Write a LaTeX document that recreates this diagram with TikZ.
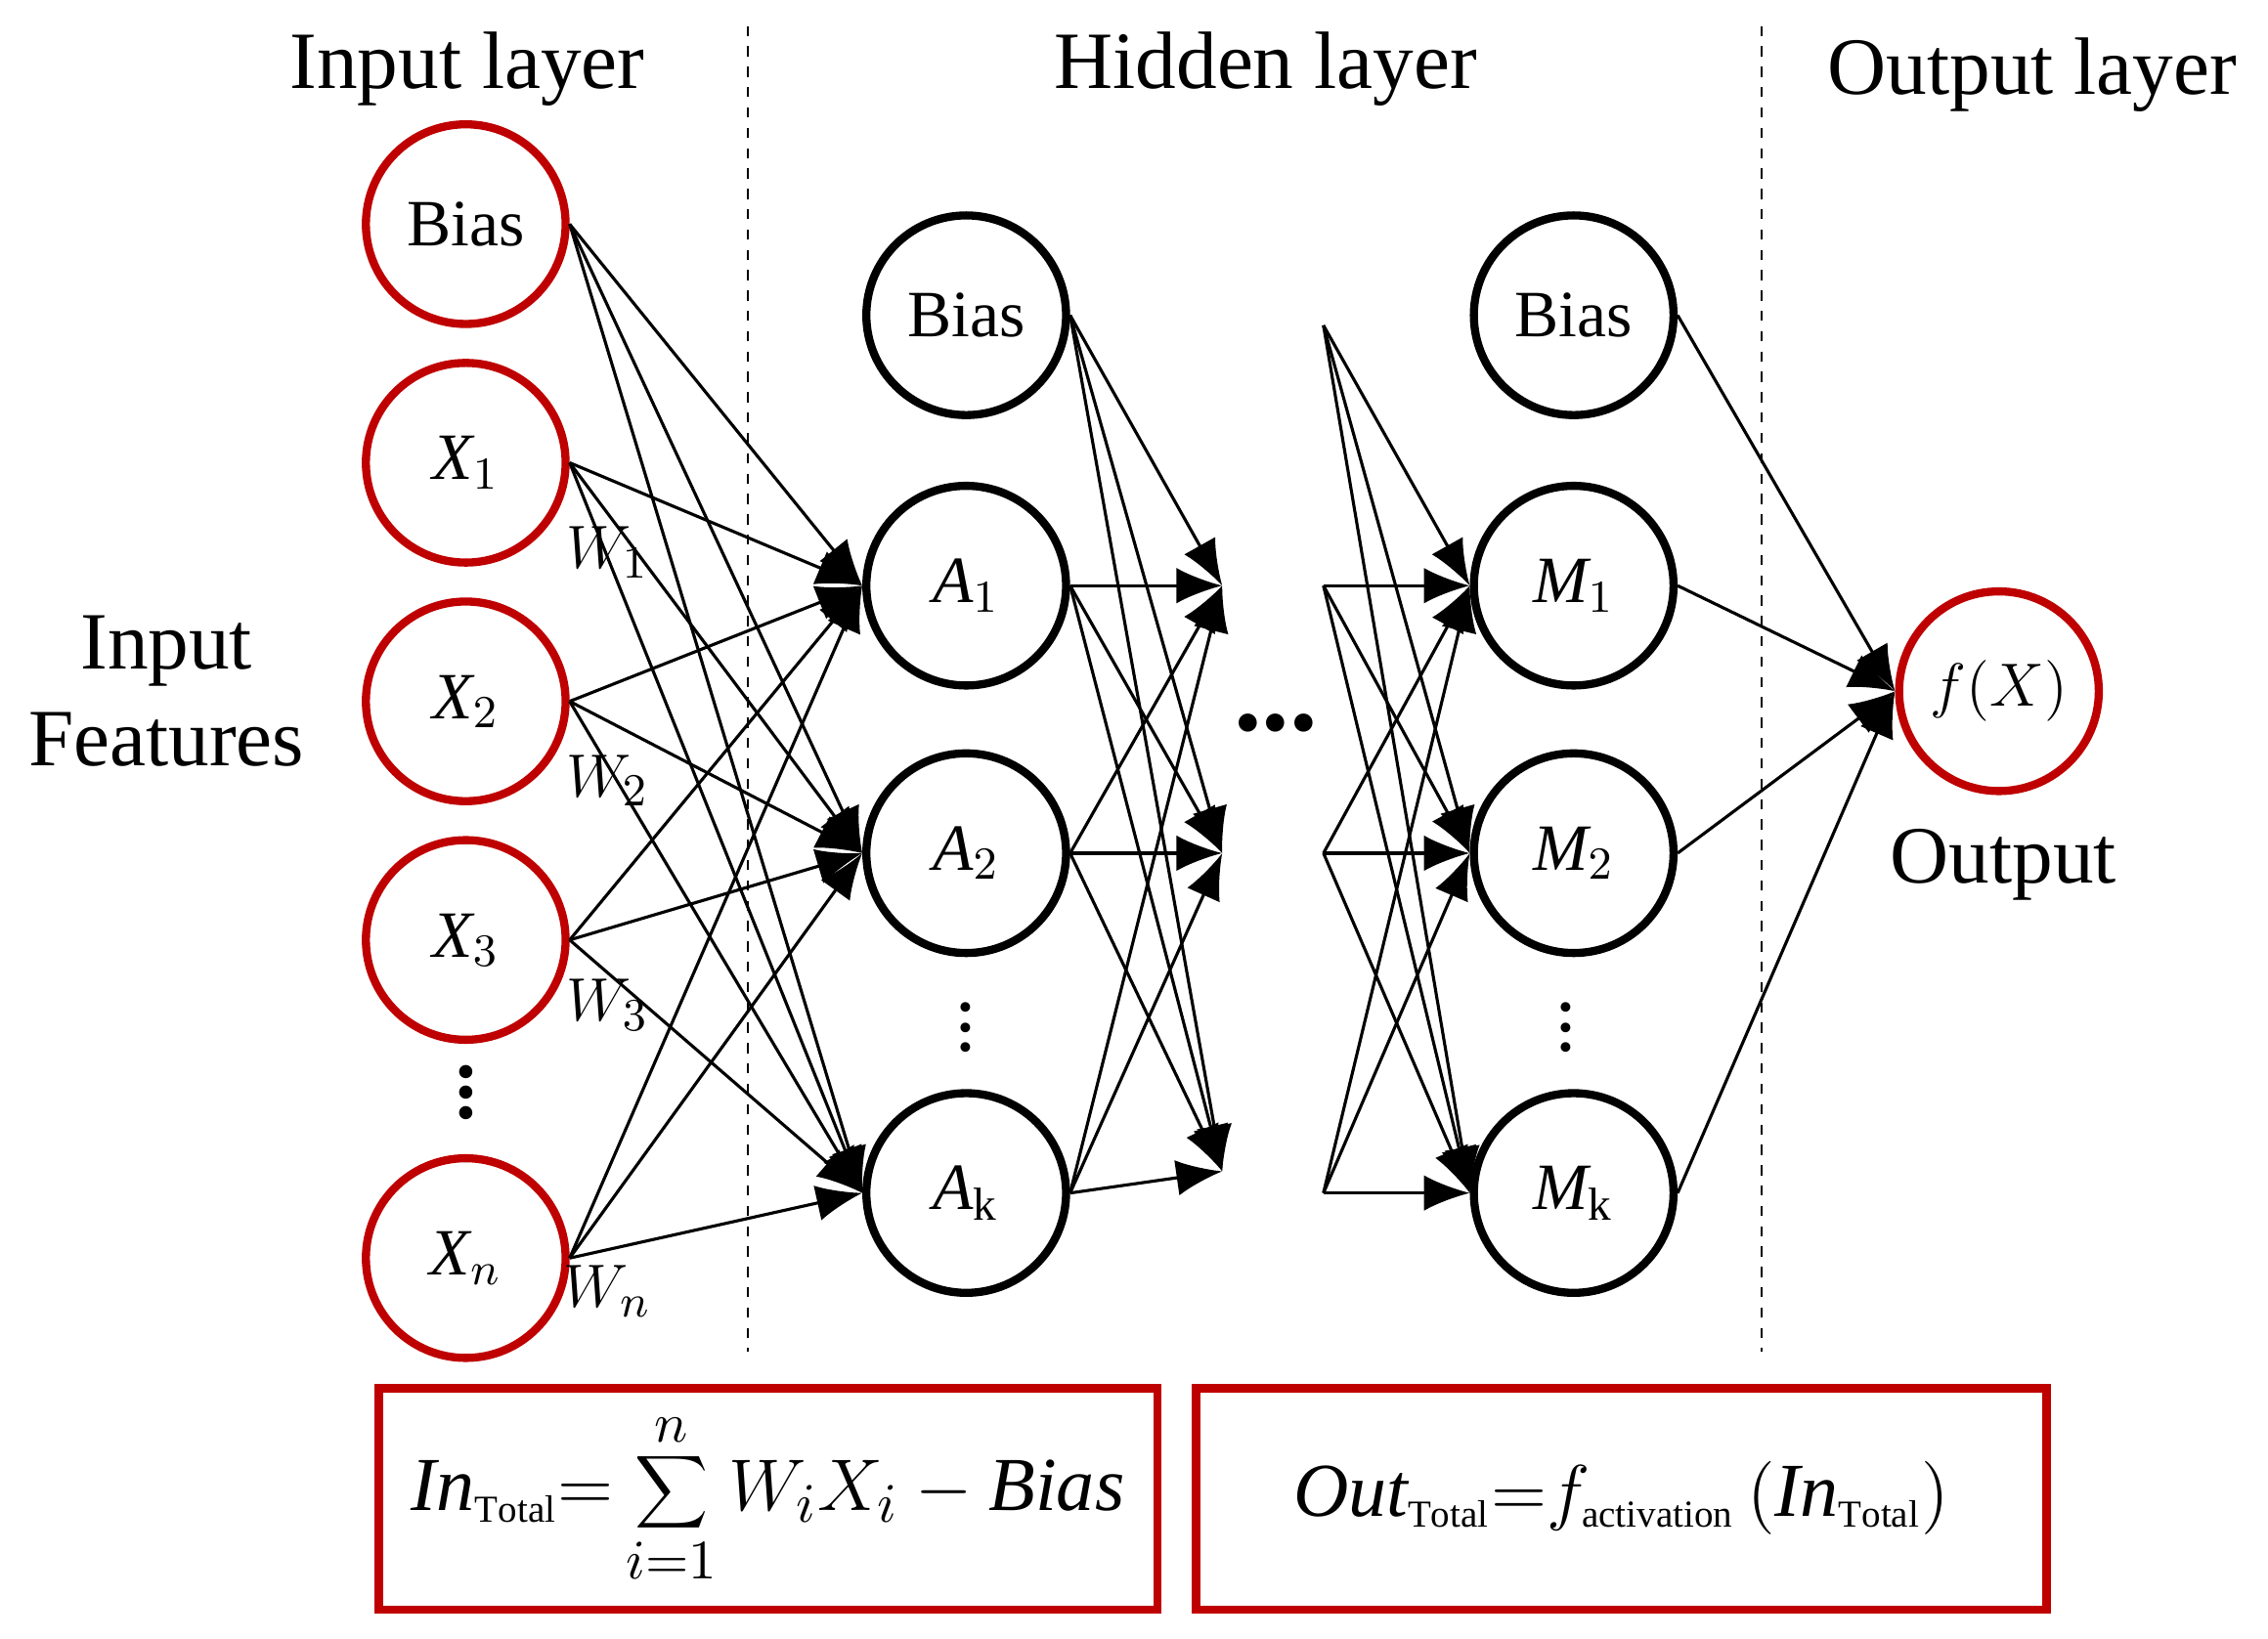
\documentclass[tikz,border=0pt]{standalone}
\usepackage{fontspec}
\setmainfont{Liberation Serif}
\usetikzlibrary{arrows.meta}
\begin{document}
\begin{tikzpicture}[x=0.01cm,y=-0.01cm,
 neu/.style={circle,draw=black,line width=1.6pt,minimum size=1.38cm,inner sep=0pt,font=\fontsize{13}{15}\selectfont},
 red/.style={neu,draw=red!75!black},
 e/.style={line width=0.6pt},
 a/.style={line width=0.6pt,-{Latex[length=9pt,width=7pt]}},
 ttl/.style={font=\fontsize{16}{19}\selectfont},
 box/.style={draw=red!75!black,line width=1.6pt}]
\useasboundingbox (0,0) rectangle (1568,1133);
\draw[dash pattern=on 2pt off 2pt,line width=0.4pt] (517,18) -- (517,935) (1218,18) -- (1218,935);
\node[ttl] (t1) at (323,48) {Input layer};
\node[ttl] (t2) at (875,48) {Hidden layer};
\node[ttl] (t3) at (1405,52) {Output layer};
\node[ttl,align=center] (feat) at (115,478) {Input\\Features};
% input
\node[red] (ib) at (322,155) {Bias};
\node[red] (x1) at (322,320) {$\mathit{X}_1$};
\node[red] (x2) at (322,485) {$\mathit{X}_2$};
\node[red] (x3) at (322,650) {$\mathit{X}_3$};
\node[red] (xn) at (322,870) {$\mathit{X}_n$};
\node[font=\bfseries\fontsize{16}{16}\selectfont] (d1) at (322,745) {$\vdots$};
% hidden A
\node[neu] (ab) at (668,218) {Bias};
\node[neu] (a1) at (668,405) {$\mathit{A}_1$};
\node[neu] (a2) at (668,590) {$\mathit{A}_2$};
\node[neu] (ak) at (668,825) {$\mathit{A}_\mathrm{k}$};
\node[font=\fontsize{16}{16}\selectfont] (d2) at (668,700) {$\vdots$};
% hidden M
\node[neu] (mb) at (1088,218) {Bias};
\node[neu] (m1) at (1088,405) {$\mathit{M}_1$};
\node[neu] (m2) at (1088,590) {$\mathit{M}_2$};
\node[neu] (mk) at (1088,825) {$\mathit{M}_\mathrm{k}$};
\node[font=\fontsize{16}{16}\selectfont] (d3) at (1083,700) {$\vdots$};
\node[font=\bfseries\fontsize{22}{22}\selectfont] (dd) at (882,500) {...};
% output
\node[red] (o) at (1382,478) {$f(X)$};
\node[ttl] (ol) at (1385,598) {Output};
% intermediate coords
\coordinate (p1) at (845,405); \coordinate (p2) at (845,590); \coordinate (p3) at (845,810);
\coordinate (s0) at (915,225); \coordinate (s1) at (915,405); \coordinate (s2) at (915,590); \coordinate (s3) at (915,825);
\foreach \s in {ib,x1,x2,x3,xn}{\foreach \t in {a1,a2,ak}{\draw[a] (\s.east) -- (\t.west);}}
\foreach \s in {ab,a1,a2,ak}{\foreach \t in {p1,p2,p3}{\draw[a] (\s.east) -- (\t);}}
\foreach \s in {s0,s1,s2,s3}{\foreach \t in {m1,m2,mk}{\draw[a] (\s) -- (\t.west);}}
\foreach \s in {mb,m1,m2,mk}{\draw[a] (\s.east) -- (o.west);}
\node[font=\fontsize{13}{15}\selectfont] (w1) at (420,382) {$W_1$};
\node[font=\fontsize{13}{15}\selectfont] (w2) at (420,540) {$W_2$};
\node[font=\fontsize{13}{15}\selectfont] (w3) at (420,695) {$W_3$};
\node[font=\fontsize{13}{15}\selectfont] (wn) at (420,893) {$W_n$};
% formulas
\draw[box] (262,960) rectangle (800,1113);
\draw[box] (827,960) rectangle (1415,1113);
\node[font=\fontsize{15}{18}\selectfont] (f1) at (531,1036) {$\mathit{In}_{\scriptscriptstyle\mathrm{Total}}{=}\displaystyle\sum_{i=1}^{n}W_iX_i-\mathit{Bias}$};
\node[font=\fontsize{15}{18}\selectfont] (f2) at (1121,1036) {$\mathit{Out}_{\scriptscriptstyle\mathrm{Total}}{=}f_{\scriptscriptstyle\mathrm{activation}}\,(\mathit{In}_{\scriptscriptstyle\mathrm{Total}})$};
\end{tikzpicture}
\end{document}
